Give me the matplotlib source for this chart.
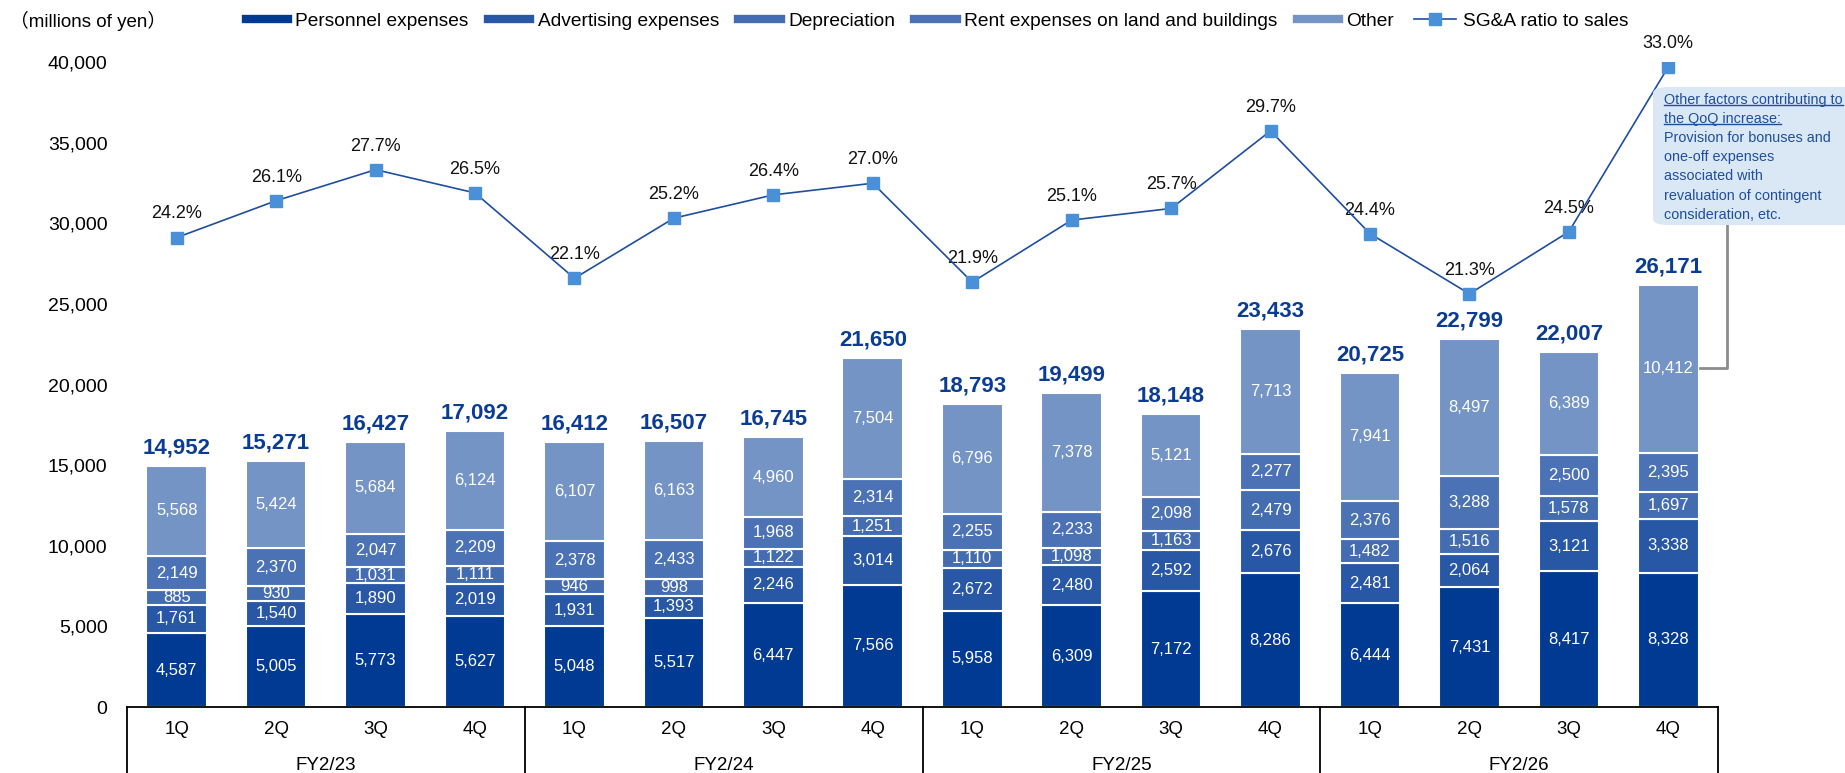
import numpy as np
import matplotlib.pyplot as plt
import matplotlib.transforms as mtransforms
from matplotlib.lines import Line2D
from matplotlib.patches import FancyBboxPatch

plt.rcParams['font.family'] = ['Liberation Sans', 'Noto Sans CJK JP', 'DejaVu Sans']

quarters = ['1Q', '2Q', '3Q', '4Q'] * 4
years = ['FY2/23', 'FY2/24', 'FY2/25', 'FY2/26']

personnel = [4587, 5005, 5773, 5627, 5048, 5517, 6447, 7566,
             5958, 6309, 7172, 8286, 6444, 7431, 8417, 8328]
advertising = [1761, 1540, 1890, 2019, 1931, 1393, 2246, 3014,
               2672, 2480, 2592, 2676, 2481, 2064, 3121, 3338]
depreciation = [885, 930, 1031, 1111, 946, 998, 1122, 1251,
                1110, 1098, 1163, 2479, 1482, 1516, 1578, 1697]
rent = [2149, 2370, 2047, 2209, 2378, 2433, 1968, 2314,
        2255, 2233, 2098, 2277, 2376, 3288, 2500, 2395]
other = [5568, 5424, 5684, 6124, 6107, 6163, 4960, 7504,
         6796, 7378, 5121, 7713, 7941, 8497, 6389, 10412]
totals = [14952, 15271, 16427, 17092, 16412, 16507, 16745, 21650,
          18793, 19499, 18148, 23433, 20725, 22799, 22007, 26171]
ratio = [24.2, 26.1, 27.7, 26.5, 22.1, 25.2, 26.4, 27.0,
         21.9, 25.1, 25.7, 29.7, 24.4, 21.3, 24.5, 33.0]

series = [
    ('Personnel expenses', personnel, '#003A92'),
    ('Advertising expenses', advertising, '#2757A5'),
    ('Depreciation', depreciation, '#446DB1'),
    ('Rent expenses on land and buildings', rent, '#4B72B5'),
    ('Other', other, '#7394C5'),
]

fig = plt.figure(figsize=(18.45, 7.73), dpi=100)
ax = fig.add_axes([127/1845, 66/773, (1718-127)/1845, (707-62)/773])

x = np.arange(len(totals))
bottom = np.zeros(len(x))
for name, vals, col in series:
    vals = np.array(vals)
    ax.bar(x, vals, 0.61, bottom=bottom, color=col, edgecolor='white', linewidth=1.5, zorder=2)
    for xi, b, v in zip(x, bottom, vals):
        ax.text(xi, b + v/2, f'{v:,}', ha='center', va='center', color='white', fontsize=12, zorder=3)
    bottom += vals

for xi, t in zip(x, totals):
    ax.annotate(f'{t:,}', (xi, t), xytext=(0, 13), textcoords='offset points',
                ha='center', va='center', fontsize=16, fontweight='bold', color='#0B3C94')

ax.set_xlim(-0.5, 15.5)
ax.set_ylim(0, 40000)
ax.set_yticks(np.arange(0, 40001, 5000))
ax.set_yticklabels([f'{v:,}' for v in range(0, 40001, 5000)], fontsize=14)
ax.tick_params(axis='y', length=0, pad=14)
ax.set_xticks([])
for s in ax.spines.values():
    s.set_visible(False)

# table-like x axis
trans = mtransforms.blended_transform_factory(ax.transData, ax.transAxes)
ax.plot([-0.5, 15.5], [0, 0], color='black', lw=1.3, transform=trans, clip_on=False)
for b in [-0.5, 3.5, 7.5, 11.5, 15.5]:
    ax.plot([b, b], [0, -0.12], color='black', lw=1.3, transform=trans, clip_on=False)
for xi, q in zip(x, quarters):
    ax.text(xi, -22/645, q, transform=trans, ha='center', va='center', fontsize=13.5)
for i, y in enumerate(years):
    ax.text(4*i + 1.5, -58/645, y, transform=trans, ha='center', va='center', fontsize=13.5)

# SG&A ratio on secondary axis
ax2 = ax.twinx()
ax2.set_ylim(0, 33.25)
ax2.axis('off')
ax2.plot(x, ratio, color='#1F4E9E', lw=1.2, marker='s', markersize=9,
         markerfacecolor='#4A90D9', markeredgecolor='#4A90D9', zorder=4)
for xi, r in zip(x, ratio):
    ax2.annotate(f'{r:.1f}%', (xi, r), xytext=(0, 17), textcoords='offset points',
                 ha='center', va='center', fontsize=13, color='#111111')

# legend
handles = [Line2D([0], [0], color=c, lw=6) for _, _, c in series]
handles.append(Line2D([0], [0], color='#1F4E9E', lw=1.2, marker='s', markersize=9,
                      markerfacecolor='#4A90D9', markeredgecolor='#4A90D9'))
labels = [n for n, _, _ in series] + ['SG&A ratio to sales']
fig.legend(handles, labels, loc='center', bbox_to_anchor=(0.508, 0.973), ncol=6,
           frameon=False, fontsize=13.8, handlelength=2.2, columnspacing=1.0, handletextpad=0.4)

fig.text(10/1845, 1 - 21/773, '（millions of yen）', fontsize=13.5, va='center', ha='left')

# annotation box
box = FancyBboxPatch((1653/1845, 1 - 225/773), (1845 - 1653)/1845 + 0.01, (225 - 87)/773,
                     boxstyle='round,pad=0,rounding_size=0.008', transform=fig.transFigure,
                     facecolor='#DAE8F6', edgecolor='none', zorder=5)
fig.patches.append(box)
note = ['Other factors contributing to', 'the QoQ increase:', 'Provision for bonuses and',
        'one-off expenses', 'associated with', 'revaluation of contingent', 'consideration, etc.']
line_y = [100, 119, 138, 157, 176, 196, 215]
note_texts = []
for t, yy in zip(note, line_y):
    note_texts.append(fig.text(1664/1845, 1 - yy/773, t, fontsize=10.4, color='#1F4E9E',
                               ha='left', va='center', zorder=6))
fig.lines.append(Line2D([1700/1845, 1727/1845, 1727/1845],
                        [1 - 368/773, 1 - 368/773, 1 - 225/773],
                        transform=fig.transFigure, color='#8C8C8C', lw=2))

# underline first two lines
fig.canvas.draw()
r = fig.canvas.get_renderer()
for t in note_texts[:2]:
    bb = t.get_window_extent(r)
    yy = (bb.y0 + 2) / fig.bbox.height
    fig.lines.append(Line2D([bb.x0 / fig.bbox.width, bb.x1 / fig.bbox.width], [yy, yy],
                            transform=fig.transFigure, color='#1F4E9E', lw=1, zorder=7))

fig.savefig('out.png', dpi=100)
